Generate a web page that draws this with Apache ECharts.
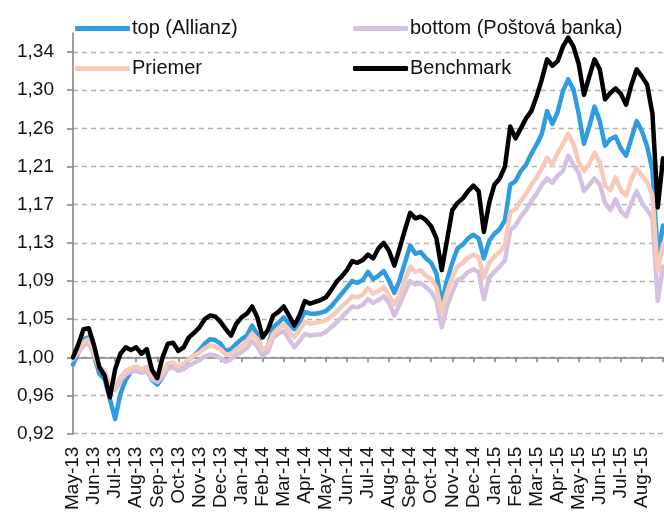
<!DOCTYPE html>
<html>
<head>
<meta charset="utf-8">
<script src="https://cdn.jsdelivr.net/npm/echarts@6/dist/echarts.min.js"></script>
<style>
  html, body { margin: 0; padding: 0; background: #fff; }
  #main { width: 664px; height: 513px; }
</style>
</head>
<body>
<div id="main"></div>
<script>
// month labels on the x axis, 4 readings per month
var months = ['May-13', 'Jun-13', 'Jul-13', 'Aug-13', 'Sep-13', 'Oct-13', 'Nov-13', 'Dec-13',
  'Jan-14', 'Feb-14', 'Mar-14', 'Apr-14', 'May-14', 'Jun-14', 'Jul-14', 'Aug-14', 'Sep-14',
  'Oct-14', 'Nov-14', 'Dec-14', 'Jan-15', 'Feb-15', 'Mar-15', 'Apr-15', 'May-15', 'Jun-15',
  'Jul-15', 'Aug-15'];
var perMonth = 4;

// y axis ticks (Excel style step 0,042)
var yTicks = [0.92, 0.962, 1.004, 1.046, 1.088, 1.13, 1.172, 1.214, 1.256, 1.298, 1.34];
var yMin = 0.92;
var yMax = 1.361;
var crossAt = 1.004;   // horizontal axis crosses at the "1,00" gridline

var topAllianz = [
  0.996, 1.009, 1.024, 1.026, 1.006, 0.986, 0.980, 0.958, 0.936, 0.964,
  0.979, 0.988, 0.993, 0.990, 0.993, 0.979, 0.974, 0.982, 0.995, 0.997,
  0.991, 0.995, 1.002, 1.006, 1.012, 1.019, 1.024, 1.023, 1.019, 1.011,
  1.013, 1.019, 1.024, 1.028, 1.039, 1.029, 1.006, 1.016, 1.037, 1.042,
  1.048, 1.041, 1.035, 1.043, 1.054, 1.052, 1.052, 1.053, 1.055, 1.060,
  1.067, 1.074, 1.081, 1.088, 1.086, 1.089, 1.098, 1.090, 1.094, 1.099,
  1.088, 1.075, 1.089, 1.108, 1.127, 1.118, 1.120, 1.113, 1.108, 1.096,
  1.063, 1.089, 1.108, 1.124, 1.128, 1.135, 1.139, 1.135, 1.113, 1.132,
  1.140, 1.145, 1.155, 1.194, 1.198, 1.209, 1.216, 1.228, 1.238, 1.250,
  1.275, 1.261, 1.274, 1.297, 1.310, 1.299, 1.272, 1.239, 1.258, 1.280,
  1.264, 1.237, 1.244, 1.247, 1.234, 1.226, 1.245, 1.264, 1.253, 1.236,
  1.210, 1.116, 1.149
];

var bottomPostova = [
  1.002, 1.009, 1.017, 1.020, 1.006, 0.992, 0.986, 0.972, 0.968, 0.978,
  0.985, 0.988, 0.989, 0.987, 0.989, 0.980, 0.977, 0.983, 0.991, 0.993,
  0.989, 0.991, 0.995, 0.998, 1.001, 1.005, 1.007, 1.006, 1.003, 0.999,
  1.002, 1.007, 1.010, 1.014, 1.022, 1.016, 1.006, 1.010, 1.026, 1.030,
  1.033, 1.024, 1.015, 1.022, 1.030, 1.028, 1.029, 1.029, 1.032, 1.037,
  1.042, 1.048, 1.054, 1.060, 1.059, 1.062, 1.068, 1.064, 1.067, 1.071,
  1.064, 1.050, 1.062, 1.076, 1.088, 1.084, 1.086, 1.081, 1.076, 1.066,
  1.037, 1.060, 1.076, 1.089, 1.092, 1.098, 1.101, 1.098, 1.068, 1.092,
  1.098, 1.104, 1.111, 1.144, 1.149, 1.159, 1.166, 1.176, 1.184, 1.194,
  1.201, 1.196, 1.204, 1.209, 1.226, 1.216, 1.207, 1.187, 1.194, 1.201,
  1.194, 1.174, 1.166, 1.178, 1.165, 1.159, 1.174, 1.187, 1.174, 1.166,
  1.157, 1.066, 1.104
];

var priemer = [
  1.004, 1.012, 1.021, 1.024, 1.009, 0.994, 0.989, 0.974, 0.970, 0.982,
  0.989, 0.992, 0.994, 0.991, 0.993, 0.984, 0.981, 0.987, 0.997, 0.998,
  0.994, 0.997, 1.002, 1.006, 1.009, 1.014, 1.017, 1.016, 1.013, 1.007,
  1.008, 1.013, 1.016, 1.022, 1.030, 1.024, 1.012, 1.016, 1.030, 1.036,
  1.040, 1.033, 1.026, 1.034, 1.043, 1.041, 1.042, 1.043, 1.045, 1.049,
  1.054, 1.060, 1.065, 1.071, 1.070, 1.073, 1.080, 1.074, 1.077, 1.081,
  1.072, 1.062, 1.073, 1.089, 1.104, 1.098, 1.100, 1.094, 1.090, 1.081,
  1.054, 1.076, 1.092, 1.104, 1.108, 1.114, 1.117, 1.114, 1.092, 1.108,
  1.115, 1.120, 1.128, 1.164, 1.167, 1.176, 1.184, 1.194, 1.202, 1.212,
  1.224, 1.216, 1.229, 1.239, 1.250, 1.239, 1.219, 1.209, 1.217, 1.229,
  1.219, 1.193, 1.188, 1.202, 1.188, 1.182, 1.200, 1.212, 1.204, 1.197,
  1.182, 1.099, 1.129
];

var benchmark = [
  1.004, 1.018, 1.035, 1.036, 1.017, 0.993, 0.984, 0.960, 0.991, 1.008,
  1.015, 1.012, 1.015, 1.008, 1.013, 0.990, 0.981, 1.004, 1.019, 1.020,
  1.011, 1.015, 1.026, 1.031, 1.037, 1.046, 1.050, 1.049, 1.043, 1.035,
  1.028, 1.041, 1.048, 1.052, 1.060, 1.048, 1.026, 1.034, 1.050, 1.054,
  1.060, 1.050, 1.039, 1.050, 1.066, 1.063, 1.065, 1.067, 1.070, 1.078,
  1.087, 1.093, 1.100, 1.110, 1.108, 1.111, 1.117, 1.113, 1.124, 1.130,
  1.121, 1.105, 1.124, 1.144, 1.163, 1.157, 1.159, 1.155, 1.148, 1.135,
  1.100, 1.133, 1.166, 1.174, 1.179, 1.187, 1.193, 1.187, 1.142, 1.174,
  1.194, 1.201, 1.214, 1.258, 1.245, 1.256, 1.267, 1.275, 1.291, 1.310,
  1.332, 1.325, 1.330, 1.346, 1.356, 1.346, 1.327, 1.293, 1.313, 1.332,
  1.321, 1.288, 1.295, 1.300, 1.294, 1.282, 1.304, 1.321, 1.313, 1.304,
  1.272, 1.169, 1.223
];

// category list: month name at the first reading of each month
var categories = [];
for (var m = 0; m < months.length; m++) {
  for (var w = 0; w < perMonth; w++) {
    categories.push(w === 0 ? months[m] : '');
  }
}
categories.push('');

var font = 'Liberation Sans, Arial, sans-serif';
var axisGray = '#878787';

var myChart = echarts.init(document.getElementById('main'));

function lineSeries(name, data, color, width) {
  return {
    name: name,
    type: 'line',
    data: data,
    symbol: 'none',
    xAxisIndex: 0,
    yAxisIndex: 0,
    z: 3,
    lineStyle: { color: color, width: width, cap: 'round', join: 'round' },
    itemStyle: { color: color }
  };
}

var legendCommon = {
  orient: 'vertical',
  top: 13,
  icon: 'roundRect',
  itemWidth: 55,
  itemHeight: 5,
  itemGap: 19,
  selectedMode: false,
  textStyle: { fontFamily: font, fontSize: 20, color: '#111', lineHeight: 21, padding: [0, 0, 0, -3] }
};

myChart.setOption({
  animation: false,
  backgroundColor: '#fff',
  grid: { left: 73, right: 1, top: 33, bottom: 77 },
  legend: [
    Object.assign({}, legendCommon, { left: 70, data: ['top (Allianz)', 'Priemer'] }),
    Object.assign({}, legendCommon, { left: 348, data: ['bottom (Poštová banka)', 'Benchmark'] })
  ],
  xAxis: {
    type: 'category',
    data: categories,
    boundaryGap: false,
    z: 2,
    // the line sits on zero of the helper y axis (= 1,00), labels stay at the bottom
    axisLine: { show: true, onZero: true, onZeroAxisIndex: 1, lineStyle: { color: axisGray, width: 1.6 } },
    axisTick: { show: true, interval: perMonth - 1, length: 5, lineStyle: { color: axisGray, width: 1.6 } },
    axisLabel: {
      interval: perMonth - 1,
      rotate: 90,
      margin: 13,
      fontFamily: font,
      fontSize: 19,
      color: '#111'
    },
    splitLine: { show: false }
  },
  yAxis: [
    {
      type: 'value',
      min: yMin,
      max: yMax,
      axisLine: { show: true, lineStyle: { color: axisGray, width: 1.6 } },
      axisTick: { show: true, length: 6, customValues: yTicks, lineStyle: { color: axisGray, width: 1.6 } },
      axisLabel: {
        customValues: yTicks,
        margin: 19,
        fontFamily: font,
        fontSize: 19,
        color: '#111',
        formatter: function (v) {
          return (Math.round(v * 100) / 100).toFixed(2).replace('.', ',');
        }
      },
      splitLine: { show: true, lineStyle: { color: '#b3b3b3', width: 1.3, type: [5, 4] } }
    },
    {
      // helper axis: same scale shifted so that 0 lands on the crossing value
      type: 'value',
      show: false,
      min: yMin - crossAt,
      max: yMax - crossAt,
      splitLine: { show: false }
    }
  ],
  series: [
    lineSeries('top (Allianz)', topAllianz, '#2f9be0', 4.5),
    lineSeries('bottom (Poštová banka)', bottomPostova, '#d5c0e2', 4.5),
    lineSeries('Priemer', priemer, '#f7c9b8', 4.5),
    lineSeries('Benchmark', benchmark, '#000000', 4.5)
  ]
});
</script>
</body>
</html>
